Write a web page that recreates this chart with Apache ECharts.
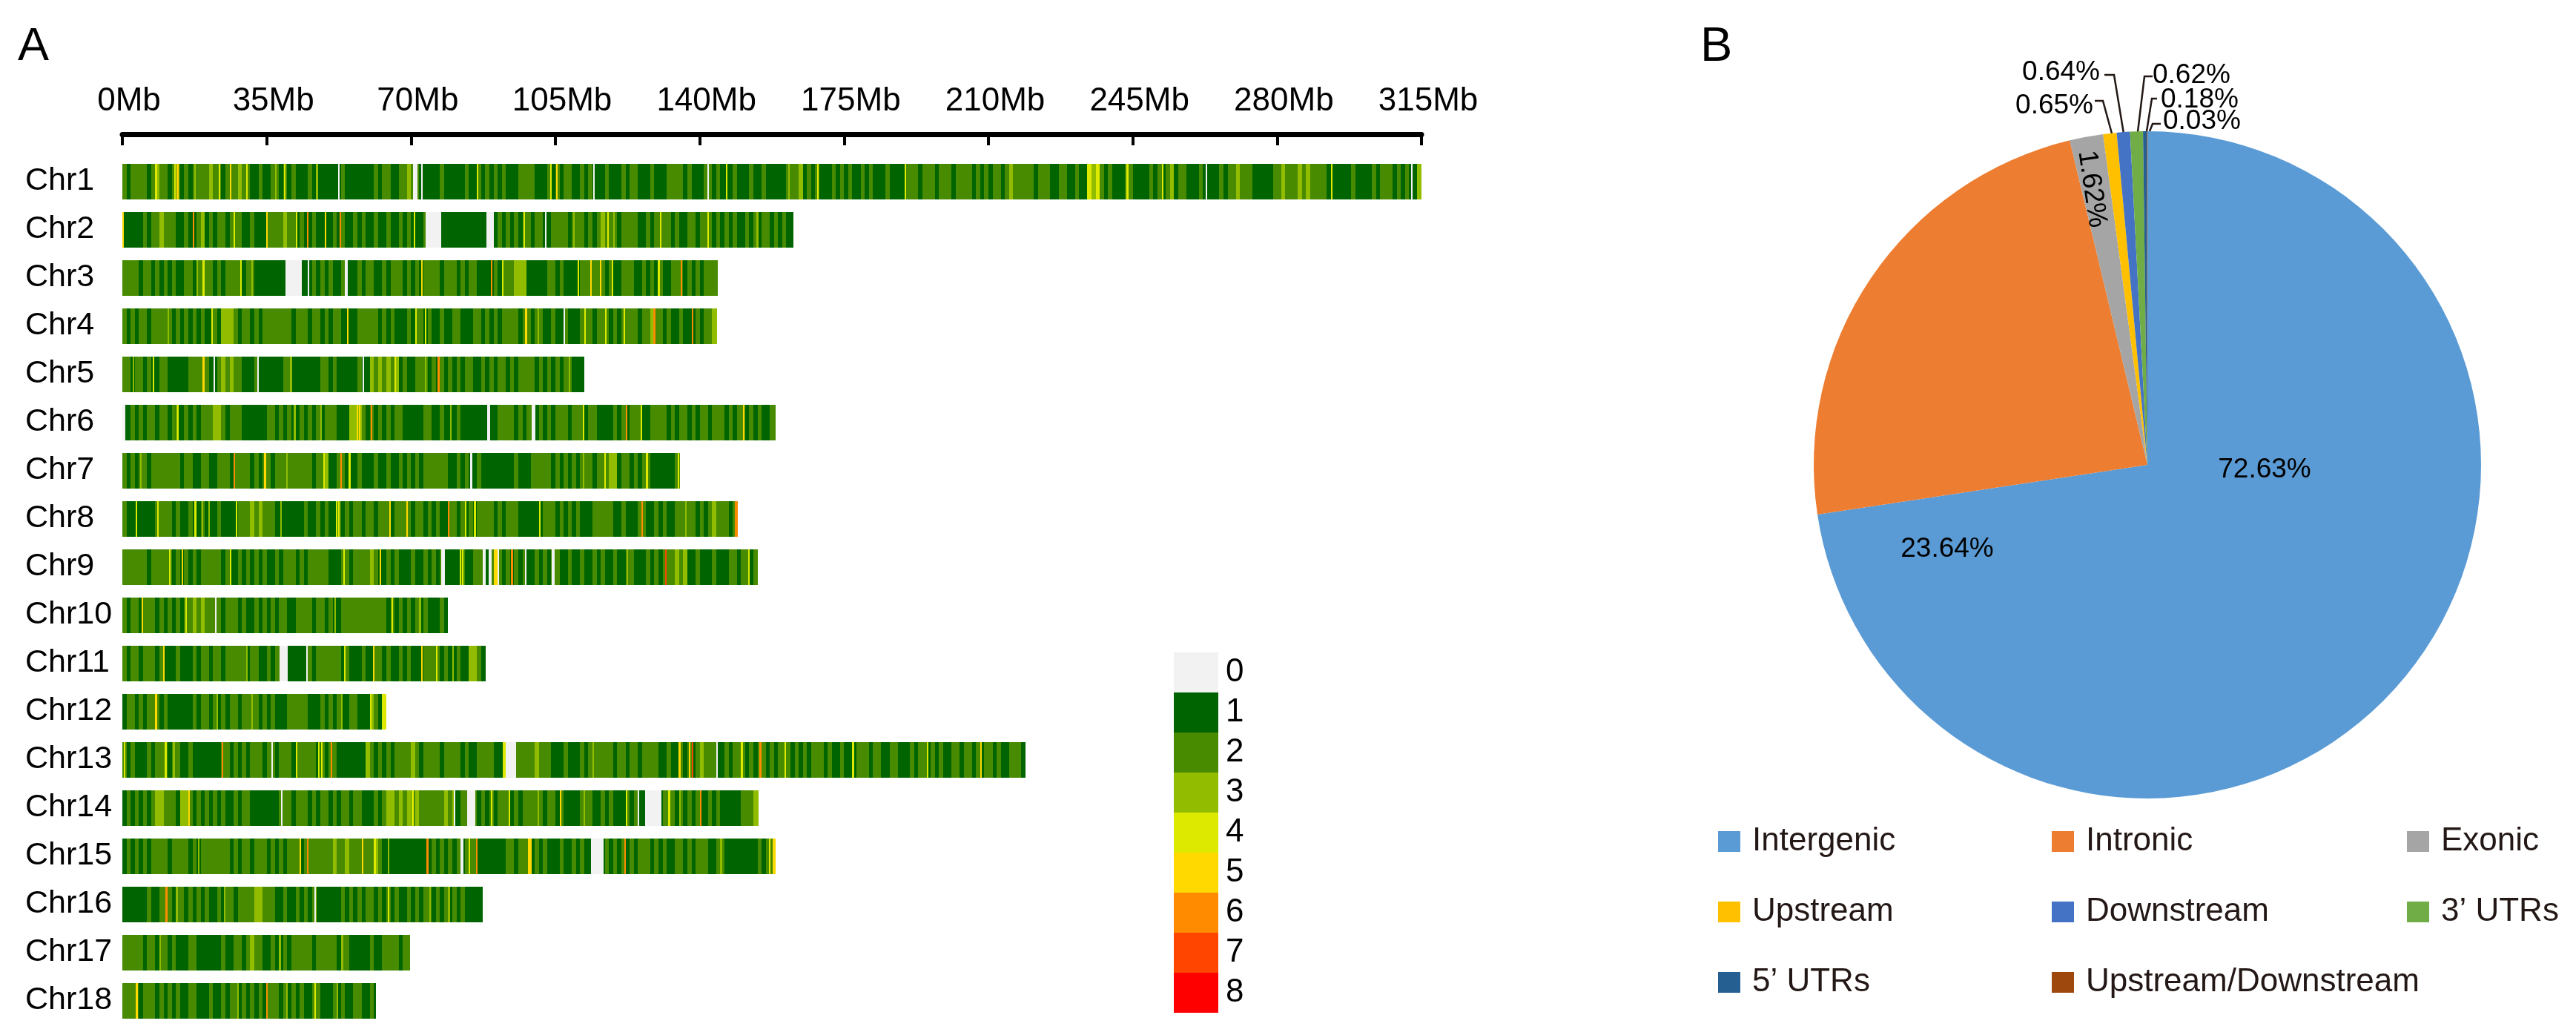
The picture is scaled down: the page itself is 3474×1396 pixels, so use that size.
<!DOCTYPE html>
<html><head><meta charset="utf-8">
<style>html,body{margin:0;padding:0;background:#fff}#c{width:3474px;height:1396px}</style>
<script src="https://cdn.jsdelivr.net/npm/echarts@6/dist/echarts.min.js"></script>
</head><body><div id="c"></div>
<script>
const FONT='"Liberation Sans",Arial,sans-serif';
const chromosomes=['Chr1','Chr2','Chr3','Chr4','Chr5','Chr6','Chr7','Chr8','Chr9','Chr10','Chr11','Chr12','Chr13','Chr14','Chr15','Chr16','Chr17','Chr18'];
const chrLengths=[315,162.7,144.4,144.2,112,158.4,135.2,149,154,78.9,88.1,64,219,154.2,158.3,87.3,69.7,61.4];
const axisTicks=[0,35,70,105,140,175,210,245,280,315];
// SNP density per 1 Mb bin, one digit per bin (grouped in tens)
const binDigits=[
'2122221232 2122121222 2322122232 2112112212 1211121111 1112111111 1212211223 2211111211 1112112121 2121112222 1112121221 1212111211 1212211121 1122221211 1221211121 1121121111 1222312121 1121212112 1211121111 2221222122 2122221212 1221232222 2122211221 1211434212 1112211112 1212312211 1211112122 3222111112 2322232322 2211111121 1112122212 12113',
'1111121223 2221121123 1212212221 1211122223 2212112111 1212112121 1211211212 1112211111 1111111111 1212121221 2211222212 2212123222 1222211212 2221211221 2221212121 1212122121 211',
'2222122121 2121122122 2212122221 2211111111 1111112121 2112111212 2112122212 1212222122 2121221111 2122233311 1112212111 1222222121 1222112121 2112221212 1222',
'2121221222 2212121212 1121333212 2121222222 2122212212 1221111222 2212121112 1221211211 2211122121 2122221221 2211211211 1222122212 1222212232 2121121112 1223',
'2212212112 2111112222 2112323221 1121111112 2111111122 1211111211 3232323121 1222121212 1212211212 1221212222 1212121221 11',
'1121212212 2121121212 2233212221 1111122121 2112121212 2211133321 2121212211 1112211211 1211111111 1222212122 1212122212 2212211112 1212221122 2212122121 2212221212 21212112',
'2121221222 2222122112 2112221222 2121221222 2222221223 1122111211 1211211212 1212222221 1212112111 1111121112 2222121212 1222122233 1221212211 11112',
'2111111122 2212112112 1112111122 2323222111 1111211212 1121212212 2122212222 1221212112 2121212222 1212221111 1122212121 2111222221 1211122112 1211222221 212322212',
'2222221222 2212121212 2222121121 2121211212 2212122222 1112212222 3211212111 2112121211 1121122212 2212121211 2121221121 1211212112 1122111212 1222323112 1112111221 2212',
'2122122212 1212122323 2222122212 1121212122 1122221221 2112222222 2222121212 121211121',
'2122122212 1112111212 2122122222 1221121222 1111121222 2221211121 1221211212 1112222121 12113321',
'1221212221 2111111212 2121212212 2221212111 2222211121 2121122111 3214',
'2121112122 2122112111 1111221212 1222122122 2122222121 2211111113 2121212222 3212222122 2212112222 1113322222 3222111211 1212222221 2212212222 1121121212 3222112122 2121221212 2212121222 1211211122 2122112211 1212212121 1221221212 212112221',
'1212121233 2221332121 2121211212 2111111122 2122212122 1212212211 1212332323 2322222232 1122221212 1222121222 2212212111 1222112121 1121211211 1222121212 1121211111 2223',
'1212121222 2122221212 2222221212 2122212121 2221222222 2322322222 2321111111 1111121212 1212221111 1112212221 2121112112 1211111212 1212122212 1211221212 2211221111 11112122',
'1111112112 2212212121 2112122122 2233222112 1121212111 1112121212 2121212112 1212212121 2121111',
'2222212212 2121112211 1111211221 2322112112 1222221222 2212211111 2112222122',
'2222122212 1212112211 1211212212 1212122212 1212112211 1212112211 21'
];
// unsequenced gaps: [chromosome index, start Mb, end Mb]
const gapRanges=[
[0,52.3,52.7],[0,70.5,71.6],[0,72.4,72.8],[0,114.1,114.5],[0,141.8,142.1],[0,262.7,263],[0,312.5,312.9],
[1,73.6,77.4],[1,88.2,90.1],[1,102.5,102.9],
[2,39.5,43.6],[2,44.9,45.2],[2,54,54.6],
[3,107,107.3],
[4,22.1,22.4],[4,32.8,33.1],[4,58.3,58.6],
[5,0,0.8],[5,88.5,89.2],[5,99.3,100.1],
[6,84.4,84.8],
[8,77.4,78.2],[8,87.4,88.1],[8,88.9,89.5],[8,90.9,91.2],[8,97.6,97.9],[8,104.1,104.9],
[9,22.4,22.8],
[10,38.1,40.1],[10,44.6,44.9],
[12,36.1,36.5],[12,93,95.4],[12,144,144.4],
[13,38.4,38.6],[13,80.3,80.8],[13,83.6,85.6],[13,125,125.3],[13,126.8,130.8],
[14,82,82.7],[14,113.7,116.6],
[15,46.6,46.9]
];
// narrow high-density stripes: [chromosome index, Mb, density]
const accentStripes=[
[0,8,4],[0,12.5,4],[0,13.2,5],[0,17.4,3],[0,23.4,4],[0,26,5],[0,30,4],[0,37,3],[0,39.2,4],[0,47,3],[0,85.9,4],[0,103.7,4],[0,105.1,5],[0,146.3,4],[0,161.5,3],[0,168.5,4],[0,189.6,4],[0,243.5,4],[0,252,4],[0,254.5,3],[0,293,4],[0,314.5,3],
[1,0,5],[1,17,6],[1,19.5,3],[1,27,4],[1,34.9,5],[1,42,4],[1,44.7,6],[1,49,5],[1,52.6,6],[1,70.6,4],[1,97.2,4],[1,109.3,3],[1,117.6,4],[1,119,3],[1,130.4,4],[1,141.9,4],[1,153.8,3],
[2,18,3],[2,19.5,4],[2,28.6,4],[2,31.3,3],[2,72.4,5],[2,89.4,6],[2,92.1,4],[2,110.4,4],[2,113.4,5],[2,115.8,5],[2,118.7,4],[2,129.9,4],[2,135.3,6],
[3,11,3],[3,21.5,4],[3,54.4,5],[3,71,4],[3,73.3,4],[3,97.7,5],[3,100.6,3],[3,112,4],[3,117,4],[3,121.5,4],[3,128.8,6],[3,138,6],
[4,2.5,3],[4,7.3,4],[4,19.5,5],[4,40.7,3],[4,66,4],[4,73.3,3],[4,76.5,6],[4,108.2,3],
[5,13.2,4],[5,41.6,3],[5,48,3],[5,56.8,5],[5,57.3,5],[5,60.2,6],[5,79.4,3],[5,111.6,4],[5,122,6],[5,125.6,4],[5,150.4,5],
[6,4.3,3],[6,27,6],[6,34.4,5],[6,39.7,3],[6,48.7,4],[6,52.8,6],[6,54.9,4],[6,111.6,3],[6,116.8,4],[6,119.4,3],[6,127,4],[6,134.6,4],
[7,3.2,4],[7,8.4,4],[7,17.5,4],[7,19.2,3],[7,20.8,3],[7,27.5,4],[7,38.3,3],[7,51.7,4],[7,52.3,4],[7,64.7,5],[7,68.8,5],[7,78.9,6],[7,83,4],[7,85.3,4],[7,101,4],[7,125.9,6],[7,136.4,3],[7,148.5,6],[7,148.9,6],
[8,11.3,4],[8,14.3,5],[8,26,4],[8,53.5,4],[8,62.3,5],[8,81.8,4],[8,82.3,4],[8,90,5],[8,90.5,5],[8,94.3,6],[8,122.2,3],[8,131.6,7],[8,151.7,4],
[9,4.7,5],[9,15.2,4],[9,51.4,3],[9,65.3,4],[9,72,3],
[10,9.8,5],[10,30,3],[10,53.7,4],[10,60.8,5],[10,72.4,5],[10,76,4],[10,80,3],
[11,8,5],[11,22.8,3],[11,31.3,3],[11,53,3],[11,60,4],[11,63,4],[11,63.5,4],
[12,0.4,4],[12,10.3,4],[12,12.3,3],[12,24.1,6],[12,42,4],[12,47.5,4],[12,48.2,4],[12,50.5,6],[12,59.2,3],[12,92.3,4],[12,92.7,4],[12,113.9,3],[12,134.9,5],[12,137.4,5],[12,138,7],[12,150,4],[12,154.5,6],[12,160.5,4],[12,177,4],[12,195,4],[12,208,5],
[13,16,5],[13,70.2,4],[13,80,3],[13,89.4,4],[13,93.7,4],[13,100.6,3],[13,106,5],[13,111.8,3],[13,122.1,4],[13,132.4,4],[13,135,3],[13,140,6],
[14,18.3,3],[14,43,5],[14,44.8,6],[14,58,5],[14,61,4],[14,64.3,3],[14,73.8,6],[14,83.9,4],[14,85.8,6],[14,98.4,5],[14,98.9,5],[14,121.7,6],[14,145,3],[14,156.7,4],[14,157.7,5],[14,158.1,5],
[15,10.5,6],[15,13,3],[15,24.6,3],[15,46.7,3],[15,64.3,4],[15,74.4,3],[15,79,3],
[16,53.1,3],[16,9,3],[16,38,3],
[17,3.3,5],[17,27.9,3],[17,34.8,6],[17,39.7,3],[17,46.5,4],[17,52,3]
];
const densityLevels=[0,1,2,3,4,5,6,7,8];
const densityColors=['#F2F2F2','#006400','#488B00','#92BC00','#DDEA00','#FFD900','#FF8C00','#FF4500','#FF0000'];
const pieNames=['Intergenic','Intronic','Exonic','Upstream','Downstream',"3\u2019 UTRs","5\u2019 UTRs",'Upstream/Downstream'];
const pieValues=[72.63,23.64,1.62,0.65,0.64,0.62,0.18,0.03];
const pieColors=['#5B9BD5','#ED7D31','#A5A5A5','#FFC000','#4472C4','#70AD47','#255E91','#9E480E'];
const legendColumns=[[0,3,6],[1,4,7],[2,5]];
const legendLeft=[2317,2767,3246];

const cells=[];
binDigits.forEach((raw,c)=>{
  const s=raw.replace(/ /g,'');
  const L=chrLengths[c];
  const n=Math.min(s.length,Math.ceil(L));
  for(let i=0;i<n;i++){
    const end=(i===n-1)?L:i+1;
    cells.push([c,i,end,+s[i]]);
  }
});
accentStripes.forEach(a=>cells.push([a[0],a[1],Math.min(a[1]+0.4,chrLengths[a[0]]),a[2]]));
gapRanges.forEach(g=>cells.push([g[0],g[1],g[2],0]));

const labelSpots=[
 {x:3054,y:634,align:'center'},{x:2626,y:741,align:'center'},{x:2821,y:255,align:'center',rotate:-81.5},
 {x:2823,y:143,align:'right',pts:[[2825,136],[2836,136],[2848,180]]},
 {x:2832,y:98,align:'right',pts:[[2838,101],[2851,101],[2864,180]]},
 {x:2903,y:102,align:'left',pts:[[2903,103],[2892,103],[2883,178]]},
 {x:2914,y:135,align:'left',pts:[[2909,133],[2902,133],[2895,177]]},
 {x:2917,y:164,align:'left',pts:[[2914,167],[2903,167],[2899,177]]}
];

const chart=echarts.init(document.getElementById('c'),null,{renderer:'canvas',width:3474,height:1396});
chart.setOption({
 animation:false,backgroundColor:'#fff',
 title:[
  {text:'A',left:24,top:32,padding:0,textStyle:{fontFamily:FONT,fontSize:63,fontWeight:'normal',color:'#000'}},
  {text:'B',left:2293,top:32,padding:0,textStyle:{fontFamily:FONT,fontSize:65,fontWeight:'normal',color:'#000'}}
 ],
 grid:{left:165,top:212,width:1752,height:1170,containLabel:false},
 xAxis:{type:'value',min:0,max:315,interval:35,position:'top',offset:31,
  axisLine:{show:true,onZero:false,lineStyle:{color:'#000',width:7}},
  axisTick:{show:true,inside:true,length:15,lineStyle:{color:'#000',width:4}},
  splitLine:{show:false},
  axisLabel:{margin:22,formatter:'{value}Mb',padding:[0,0,0,18],fontFamily:FONT,fontSize:44,color:'#000',showMinLabel:true,showMaxLabel:true}},
 yAxis:{type:'category',inverse:true,data:chromosomes,
  axisLine:{show:false},axisTick:{show:false},splitLine:{show:false},
  axisLabel:{interval:0,align:'left',margin:131,padding:[0,0,14,0],fontFamily:FONT,fontSize:43,color:'#000'}},
 visualMap:{type:'piecewise',seriesIndex:0,dimension:3,orient:'vertical',left:1583,top:880,padding:0,
  itemWidth:60,itemHeight:54,itemGap:0,textGap:10,itemSymbol:'rect',selectedMode:false,hoverLink:false,inverse:true,
  textStyle:{fontFamily:FONT,fontSize:44,color:'#000'},
  pieces:densityLevels.map((v,i)=>({value:v,label:String(v),color:densityColors[i]}))},
 legend:legendColumns.map((col,i)=>({
  orient:'vertical',left:legendLeft[i],top:1113,padding:0,itemWidth:30,itemHeight:28,itemGap:51,icon:'rect',selectedMode:false,
  data:col.map(k=>pieNames[k]),
  textStyle:{fontFamily:FONT,fontSize:44,color:'#231815',padding:[0,0,0,11]}
 })),
 series:[
  {type:'custom',coordinateSystem:'cartesian2d',encode:{x:[1,2],y:0},data:cells,clip:false,
   renderItem:(params,api)=>{
    const a=api.coord([api.value(1),api.value(0)]);
    const b=api.coord([api.value(2),api.value(0)]);
    const h=api.size([0,1])[1]*48/65;
    const x0=Math.round(a[0]),x1=Math.max(Math.round(b[0]),x0+2);
    return {type:'rect',shape:{x:x0,y:Math.round(a[1]-h/2),width:x1-x0,height:Math.round(h)},style:{fill:api.visual('color')}};
   }},
  {type:'pie',center:[2896,627],radius:[0,450],startAngle:90,clockwise:true,avoidLabelOverlap:false,silent:true,
   data:pieNames.map((n,i)=>({name:n,value:pieValues[i],itemStyle:{color:pieColors[i]},labelLine:{show:i>2}})),
   label:{show:true,position:'outside',formatter:'{c}%',fontFamily:FONT,fontSize:37,color:'#000'},
   labelLine:{show:true,smooth:false,lineStyle:{color:'#231815',width:2.5}},
   labelLayout:p=>{
    const s=labelSpots[p.dataIndex];
    const r={x:s.x,y:s.y,align:s.align,verticalAlign:'middle'};
    if(s.rotate!==undefined) r.rotate=s.rotate;
    if(s.pts) r.labelLinePoints=s.pts;
    return r;
   }}
 ]
});
</script></body></html>
